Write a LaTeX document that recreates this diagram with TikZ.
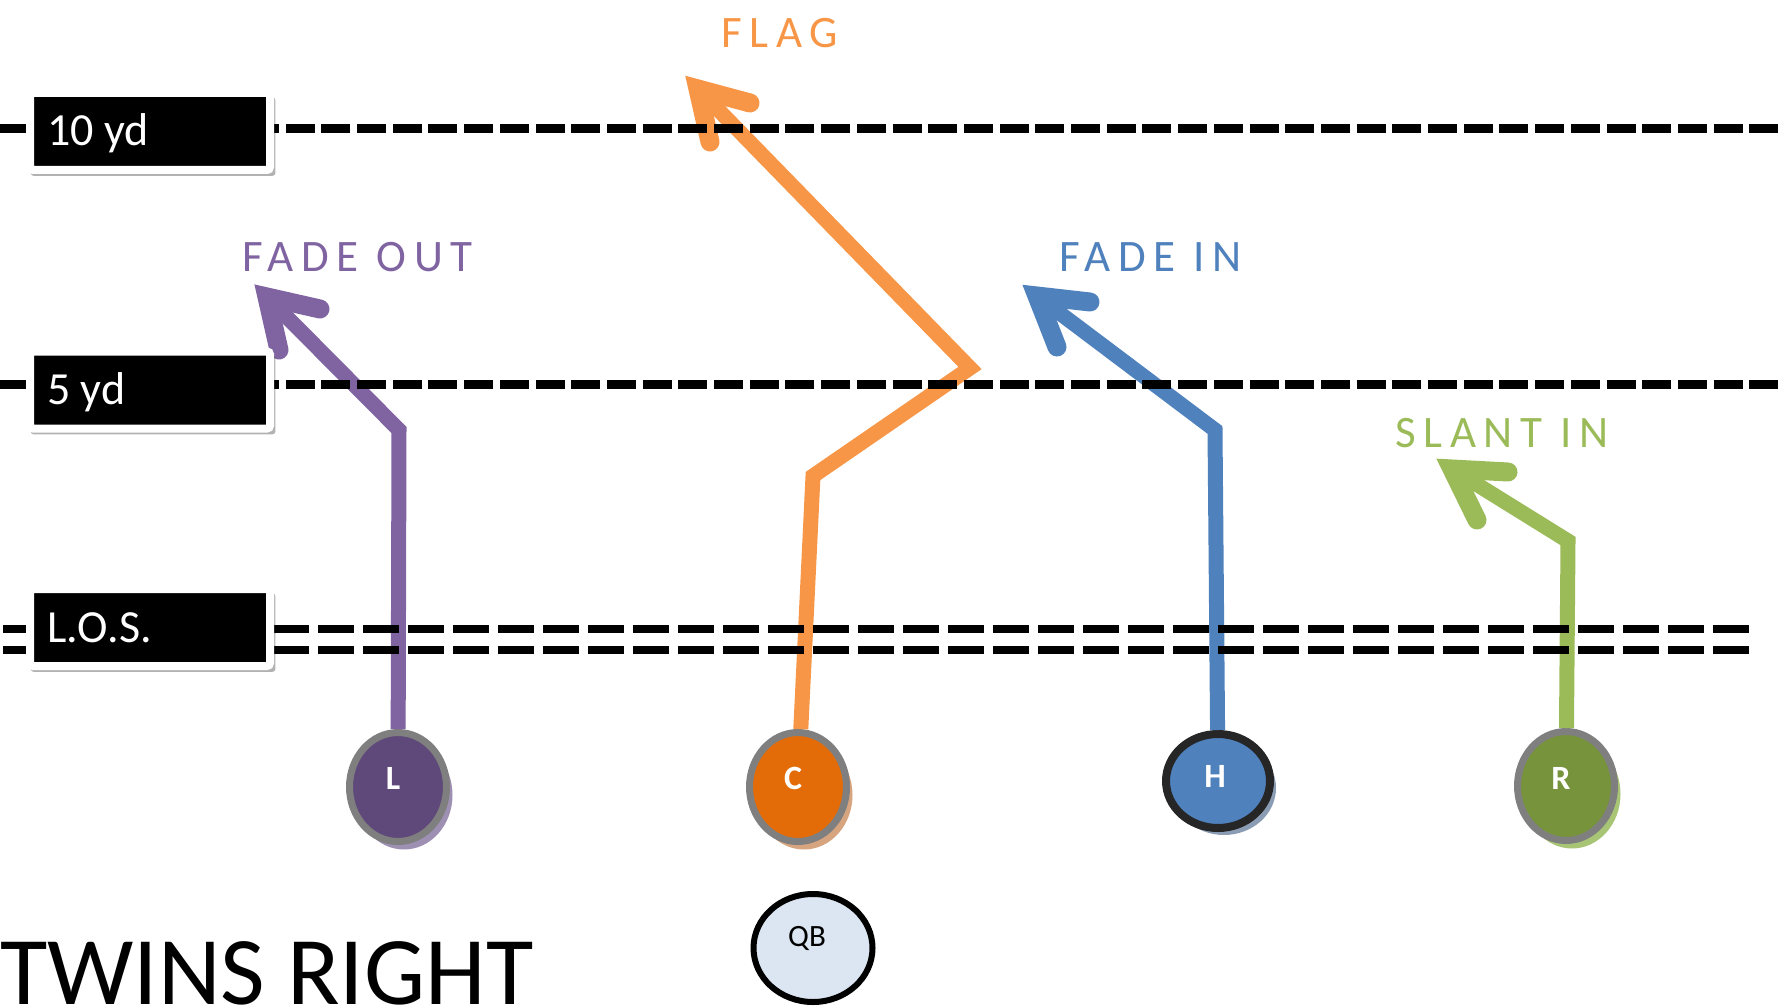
\documentclass[tikz,border=0pt]{standalone}
\usepackage{fontspec}
\setmainfont{Carlito}
\newfontfamily\spacedfont[LetterSpace=17]{Carlito}
\usetikzlibrary{shapes.geometric,shadows}
\definecolor{purp}{HTML}{8064A2}
\definecolor{Lfill}{HTML}{5F497A}
\definecolor{Lsh}{HTML}{9D90B3}
\definecolor{orng}{HTML}{F79646}
\definecolor{Cfill}{HTML}{E36C09}
\definecolor{Csh}{HTML}{D6A57F}
\definecolor{blu}{HTML}{4F81BD}
\definecolor{Hsh}{HTML}{8B9DB5}
\definecolor{Hborder}{HTML}{262626}
\definecolor{grn}{HTML}{9BBB59}
\definecolor{Rfill}{HTML}{77933C}
\definecolor{Rsh}{HTML}{A8C576}
\definecolor{pgray}{HTML}{7F7F7F}
\definecolor{qbfill}{HTML}{DCE6F2}
\begin{document}
\begin{tikzpicture}[x=1pt,y=-1pt,
  route/.style={line width=15pt, line join=miter},
  head/.style={line width=19pt, line cap=round, line join=miter, miter limit=20},
  yardline/.style={line width=9pt, dash pattern=on 29pt off 6.7pt},
  losline/.style={line width=8.5pt, dash pattern=on 36pt off 9pt},
  ydbox/.style={rectangle, rounded corners=3pt, fill=black, draw=white, line width=8pt,
    minimum width=240pt, minimum height=77pt, inner sep=0pt,
    drop shadow={shadow xshift=3pt, shadow yshift=-5pt, shadow scale=1.02, fill=black, opacity=0.3}},
  ydtext/.style={anchor=base west, inner sep=0pt, text=white, font=\fontsize{46pt}{50pt}\selectfont},
  player/.style={ellipse, inner sep=0pt, line width=7pt, draw=pgray,
    minimum width=97pt, minimum height=109pt},
  plabel/.style={inner sep=0pt, text=white, font=\fontsize{34pt}{36pt}\selectfont\bfseries},
  lbl/.style={anchor=base west, inner sep=0pt, font=\spacedfont\fontsize{45pt}{48pt}\selectfont}
]
\useasboundingbox (0,0) rectangle (1787,1008);

% players
\node[player, fill=Lfill, drop shadow={shadow xshift=6pt, shadow yshift=-8pt, fill=Lsh, opacity=1}] (L) at (398,787) {};
\node[player, fill=Cfill, drop shadow={shadow xshift=6pt, shadow yshift=-8pt, fill=Csh, opacity=1}] (C) at (798,787) {};
\node[player, draw=Hborder, line width=8pt, minimum width=104pt, minimum height=94pt, fill=blu,
  drop shadow={shadow xshift=6pt, shadow yshift=-7pt, fill=Hsh, opacity=1}] (H) at (1218,781) {};
\node[player, fill=Rfill, drop shadow={shadow xshift=6pt, shadow yshift=-8pt, fill=Rsh, opacity=1}] (R) at (1566,786) {};
\node[plabel] (Ltxt) at (393,778) {L};
\node[plabel] (Ctxt) at (793,778) {C};
\node[plabel] (Htxt) at (1215,776) {H};
\node[plabel] (Rtxt) at (1561,778) {R};

\node[ellipse, draw=black, line width=6pt, fill=qbfill, inner sep=0pt,
  minimum width=119pt, minimum height=108pt] (QB) at (813,948) {};
\node[inner sep=0pt, font=\fontsize{31pt}{33pt}\selectfont] (QBtxt) at (807,938) {QB};

% route points
\coordinate (Lc) at (399,430);
\coordinate (Lt) at (267,297);
\coordinate (Lb1) at (320,309);
\coordinate (Lb2) at (279,350);
\coordinate (Cc1) at (813,476);
\coordinate (Cc2) at (970,368);
\coordinate (Ct) at (698,89);
\coordinate (Cb1) at (750,103);
\coordinate (Cb2) at (710,142);
\coordinate (Hc) at (1215,430);
\coordinate (Ht) at (1037,296);
\coordinate (Hb1) at (1090,302);
\coordinate (Hb2) at (1057,347);
\coordinate (Rc) at (1568,541);
\coordinate (Rt) at (1452,469);
\coordinate (Rb1) at (1508,472);
\coordinate (Rb2) at (1477,520);

% routes
\draw[route, purp] (L) -- (Lc) -- (Lt);
\draw[head, purp] (Lb1) -- (Lt) -- (Lb2);
\draw[route, orng] (C) -- (Cc1) -- (Cc2) -- (Ct);
\draw[head, orng] (Cb1) -- (Ct) -- (Cb2);
\draw[route, blu] (H) -- (Hc) -- (Ht);
\draw[head, blu] (Hb1) -- (Ht) -- (Hb2);
\draw[route, grn] (R) -- (Rc) -- (Rt);
\draw[head, grn] (Rb1) -- (Rt) -- (Rb2);

% yard lines
\draw[yardline] (0,129) -- (1778,129);
\draw[yardline] (0,384) -- (1778,384);
\draw[losline] (3,629) -- (1752,629);
\draw[losline] (3,650) -- (1752,650);

% boxes
\node[ydbox] (box10) at (150,131.5) {};
\node[ydtext] (t10) at (47,146) {10 yd};
\node[ydbox] (box5) at (150,390) {};
\node[ydtext] (t5) at (47,404) {5 yd};
\node[ydbox] (boxlos) at (150,627.5) {};
\node[ydtext] (tlos) at (47,642) {L.O.S.};

% route labels
\node[lbl, text=orng] (flag) at (721,48) {FLAG};
\node[lbl, text=purp] (fadeout) at (242,272) {FADE OUT};
\node[lbl, text=blu] (fadein) at (1059,272) {FADE IN};
\node[lbl, text=grn] (slant) at (1395,447) {SLANT IN};

% title
\node[anchor=base west, inner sep=0pt, font=\fontsize{97pt}{100pt}\selectfont] (title) at (0,1004) {TWINS RIGHT};
\end{tikzpicture}
\end{document}
